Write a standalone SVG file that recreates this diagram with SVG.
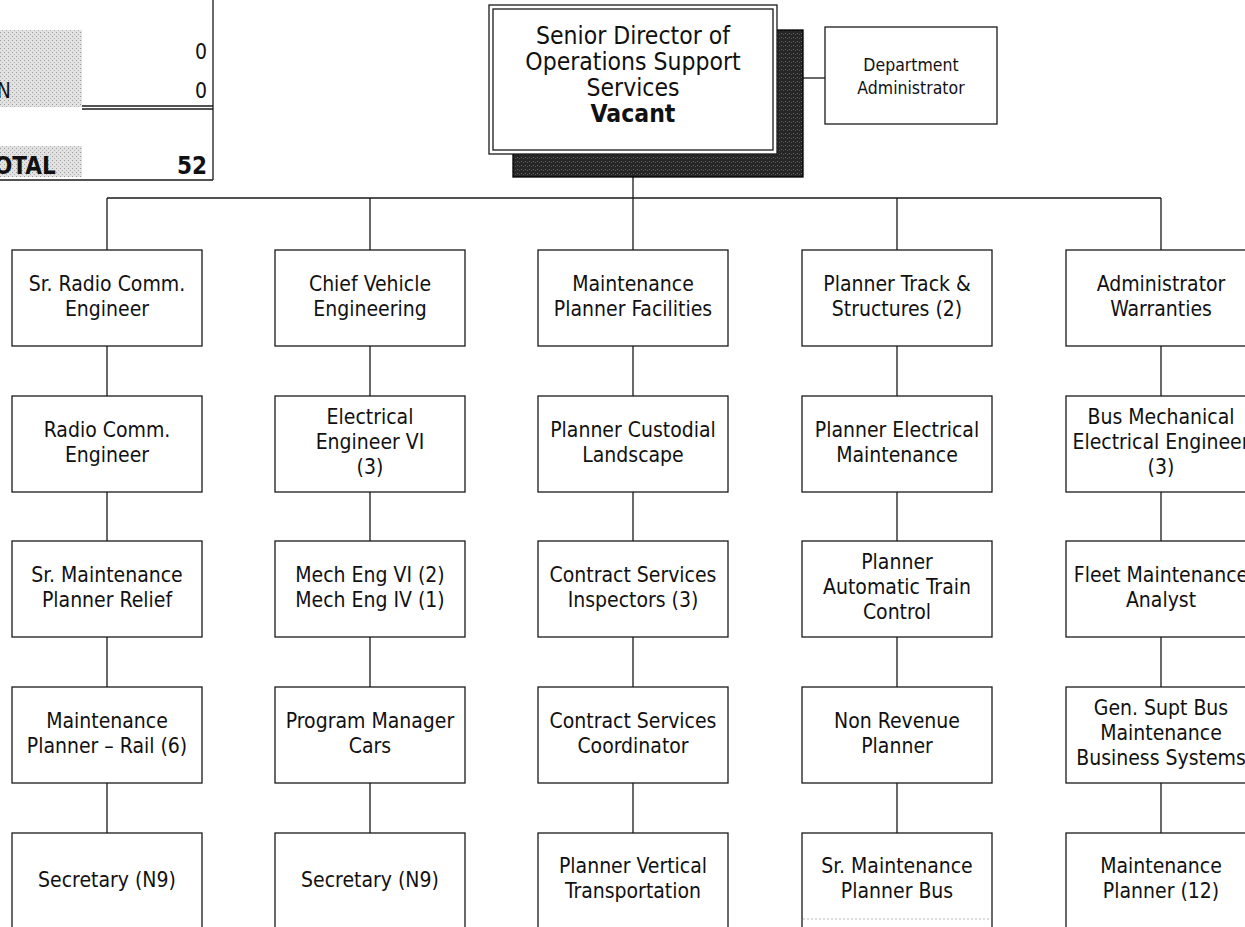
<svg xmlns="http://www.w3.org/2000/svg" width="1245" height="927" viewBox="0 0 1245 927">
  <style>
    .box { fill: #ffffff; stroke: #1a1a1a; stroke-width: 1.3; }
    .wire { fill: none; stroke: #1a1a1a; stroke-width: 1.3; }
    .t { font-family: "DejaVu Sans Condensed", "DejaVu Sans", sans-serif; font-size: 21px; fill: #111111; text-anchor: middle; }
    .title { font-family: "DejaVu Sans Condensed", "DejaVu Sans", sans-serif; font-size: 24.5px; fill: #111111; text-anchor: middle; }
    .bold { font-weight: bold; }
    .small { font-family: "DejaVu Sans Condensed", "DejaVu Sans", sans-serif; font-size: 17.5px; fill: #111111; text-anchor: middle; }
    .num { font-family: "DejaVu Sans Condensed", "DejaVu Sans", sans-serif; font-size: 21px; fill: #111111; text-anchor: end; }
    .numb { font-family: "DejaVu Sans Condensed", "DejaVu Sans", sans-serif; font-size: 24px; font-weight: bold; fill: #111111; }
    .shade { fill: url(#stipple); }
  </style>
  <defs>
    <pattern id="stipple" width="4" height="4" patternUnits="userSpaceOnUse">
      <rect width="4" height="4" fill="#e2e2e2"/>
      <rect x="0" y="0" width="1" height="1" fill="#9a9a9a"/>
      <rect x="2" y="2" width="1" height="1" fill="#b0b0b0"/>
    </pattern>
    <pattern id="darkstipple" width="4" height="4" patternUnits="userSpaceOnUse">
      <rect width="4" height="4" fill="#262626"/>
      <rect x="1" y="1" width="1" height="1" fill="#6a6a6a"/>
      <rect x="3" y="2" width="1" height="1" fill="#555555"/>
    </pattern>
  </defs>

  <!-- headcount summary panel (top left) -->
  <g id="summary">
    <rect class="shade" x="0" y="30" width="82" height="77"/>
    <rect class="shade" x="0" y="146" width="82" height="31"/>
    <text class="num" x="11" y="98">N</text>
    <text class="num" x="207" y="59">0</text>
    <text class="num" x="207" y="98">0</text>
    <line class="wire" x1="82" y1="106" x2="213" y2="106"/>
    <line class="wire" x1="82" y1="109" x2="213" y2="109" stroke-width="1"/>
    <text class="numb" x="-6" y="174" text-anchor="start">OTAL</text>
    <text class="numb" x="207" y="174" text-anchor="end">52</text>
    <line class="wire" x1="213" y1="0" x2="213" y2="180"/>
    <line class="wire" x1="0" y1="180" x2="213" y2="180"/>
  </g>

  <!-- connectors -->
  <g id="connectors">
    <path class="wire" d="M633 177V198M107 198H1161"/>
    <path class="wire" d="M803 78H825"/>
    <path class="wire" d="M107 198V250M107 346V396M107 492V541M107 637V687M107 783V833"/>
    <path class="wire" d="M370 198V250M370 346V396M370 492V541M370 637V687M370 783V833"/>
    <path class="wire" d="M633 198V250M633 346V396M633 492V541M633 637V687M633 783V833"/>
    <path class="wire" d="M897 198V250M897 346V396M897 492V541M897 637V687M897 783V833"/>
    <path class="wire" d="M1161 198V250M1161 346V396M1161 492V541M1161 637V687M1161 783V833"/>
  </g>

  <!-- top position with drop shadow and double frame -->
  <g id="senior-director">
    <rect x="513" y="30" width="290" height="147" fill="url(#darkstipple)" stroke="#000000" stroke-width="1.3"/>
    <rect class="box" x="489" y="5" width="288" height="149"/>
    <rect class="box" x="493" y="9" width="280" height="141"/>
    <text class="title" x="633" y="44">Senior Director of</text>
    <text class="title" x="633" y="70">Operations Support</text>
    <text class="title" x="633" y="96">Services</text>
    <text class="title bold" x="633" y="122">Vacant</text>
  </g>

  <g id="department-administrator">
    <rect class="box" x="825" y="27" width="172" height="97"/>
    <text class="small" x="911" y="71">Department</text>
    <text class="small" x="911" y="94">Administrator</text>
  </g>

  <!-- column 1 -->
  <g id="sr-radio-comm-engineer">
    <rect class="box" x="12" y="250" width="190" height="96"/>
    <text class="t" x="107" y="291">Sr. Radio Comm.</text>
    <text class="t" x="107" y="316">Engineer</text>
  </g>
  <g id="radio-comm-engineer">
    <rect class="box" x="12" y="396" width="190" height="96"/>
    <text class="t" x="107" y="437">Radio Comm.</text>
    <text class="t" x="107" y="462">Engineer</text>
  </g>
  <g id="sr-maintenance-planner-relief">
    <rect class="box" x="12" y="541" width="190" height="96"/>
    <text class="t" x="107" y="582">Sr. Maintenance</text>
    <text class="t" x="107" y="607">Planner Relief</text>
  </g>
  <g id="maintenance-planner-rail">
    <rect class="box" x="12" y="687" width="190" height="96"/>
    <text class="t" x="107" y="728">Maintenance</text>
    <text class="t" x="107" y="753">Planner – Rail (6)</text>
  </g>
  <g id="secretary-1">
    <rect class="box" x="12" y="833" width="190" height="96"/>
    <text class="t" x="107" y="887">Secretary (N9)</text>
  </g>

  <!-- column 2 -->
  <g id="chief-vehicle-engineering">
    <rect class="box" x="275" y="250" width="190" height="96"/>
    <text class="t" x="370" y="291">Chief Vehicle</text>
    <text class="t" x="370" y="316">Engineering</text>
  </g>
  <g id="electrical-engineer-vi">
    <rect class="box" x="275" y="396" width="190" height="96"/>
    <text class="t" x="370" y="424">Electrical</text>
    <text class="t" x="370" y="449">Engineer VI</text>
    <text class="t" x="370" y="474">(3)</text>
  </g>
  <g id="mech-eng">
    <rect class="box" x="275" y="541" width="190" height="96"/>
    <text class="t" x="370" y="582">Mech Eng VI (2)</text>
    <text class="t" x="370" y="607">Mech Eng IV (1)</text>
  </g>
  <g id="program-manager-cars">
    <rect class="box" x="275" y="687" width="190" height="96"/>
    <text class="t" x="370" y="728">Program Manager</text>
    <text class="t" x="370" y="753">Cars</text>
  </g>
  <g id="secretary-2">
    <rect class="box" x="275" y="833" width="190" height="96"/>
    <text class="t" x="370" y="887">Secretary (N9)</text>
  </g>

  <!-- column 3 -->
  <g id="maintenance-planner-facilities">
    <rect class="box" x="538" y="250" width="190" height="96"/>
    <text class="t" x="633" y="291">Maintenance</text>
    <text class="t" x="633" y="316">Planner Facilities</text>
  </g>
  <g id="planner-custodial-landscape">
    <rect class="box" x="538" y="396" width="190" height="96"/>
    <text class="t" x="633" y="437">Planner Custodial</text>
    <text class="t" x="633" y="462">Landscape</text>
  </g>
  <g id="contract-services-inspectors">
    <rect class="box" x="538" y="541" width="190" height="96"/>
    <text class="t" x="633" y="582">Contract Services</text>
    <text class="t" x="633" y="607">Inspectors (3)</text>
  </g>
  <g id="contract-services-coordinator">
    <rect class="box" x="538" y="687" width="190" height="96"/>
    <text class="t" x="633" y="728">Contract Services</text>
    <text class="t" x="633" y="753">Coordinator</text>
  </g>
  <g id="planner-vertical-transportation">
    <rect class="box" x="538" y="833" width="190" height="96"/>
    <text class="t" x="633" y="873">Planner Vertical</text>
    <text class="t" x="633" y="898">Transportation</text>
  </g>

  <!-- column 4 -->
  <g id="planner-track-structures">
    <rect class="box" x="802" y="250" width="190" height="96"/>
    <text class="t" x="897" y="291">Planner Track &amp;</text>
    <text class="t" x="897" y="316">Structures (2)</text>
  </g>
  <g id="planner-electrical-maintenance">
    <rect class="box" x="802" y="396" width="190" height="96"/>
    <text class="t" x="897" y="437">Planner Electrical</text>
    <text class="t" x="897" y="462">Maintenance</text>
  </g>
  <g id="planner-automatic-train-control">
    <rect class="box" x="802" y="541" width="190" height="96"/>
    <text class="t" x="897" y="569">Planner</text>
    <text class="t" x="897" y="594">Automatic Train</text>
    <text class="t" x="897" y="619">Control</text>
  </g>
  <g id="non-revenue-planner">
    <rect class="box" x="802" y="687" width="190" height="96"/>
    <text class="t" x="897" y="728">Non Revenue</text>
    <text class="t" x="897" y="753">Planner</text>
  </g>
  <g id="sr-maintenance-planner-bus">
    <rect class="box" x="802" y="833" width="190" height="96"/>
    <line x1="803" y1="919" x2="991" y2="919" stroke="#bdbdbd" stroke-width="1" stroke-dasharray="2 2"/>
    <text class="t" x="897" y="873">Sr. Maintenance</text>
    <text class="t" x="897" y="898">Planner Bus</text>
  </g>

  <!-- column 5 -->
  <g id="administrator-warranties">
    <rect class="box" x="1066" y="250" width="190" height="96"/>
    <text class="t" x="1161" y="291">Administrator</text>
    <text class="t" x="1161" y="316">Warranties</text>
  </g>
  <g id="bus-mechanical-electrical-engineer">
    <rect class="box" x="1066" y="396" width="190" height="96"/>
    <text class="t" x="1161" y="424">Bus Mechanical</text>
    <text class="t" x="1161" y="449">Electrical Engineer</text>
    <text class="t" x="1161" y="474">(3)</text>
  </g>
  <g id="fleet-maintenance-analyst">
    <rect class="box" x="1066" y="541" width="190" height="96"/>
    <text class="t" x="1161" y="582">Fleet Maintenance</text>
    <text class="t" x="1161" y="607">Analyst</text>
  </g>
  <g id="gen-supt-bus-maintenance">
    <rect class="box" x="1066" y="687" width="190" height="96"/>
    <text class="t" x="1161" y="715">Gen. Supt Bus</text>
    <text class="t" x="1161" y="740">Maintenance</text>
    <text class="t" x="1161" y="765">Business Systems</text>
  </g>
  <g id="maintenance-planner-12">
    <rect class="box" x="1066" y="833" width="190" height="96"/>
    <text class="t" x="1161" y="873">Maintenance</text>
    <text class="t" x="1161" y="898">Planner (12)</text>
  </g>
</svg>
